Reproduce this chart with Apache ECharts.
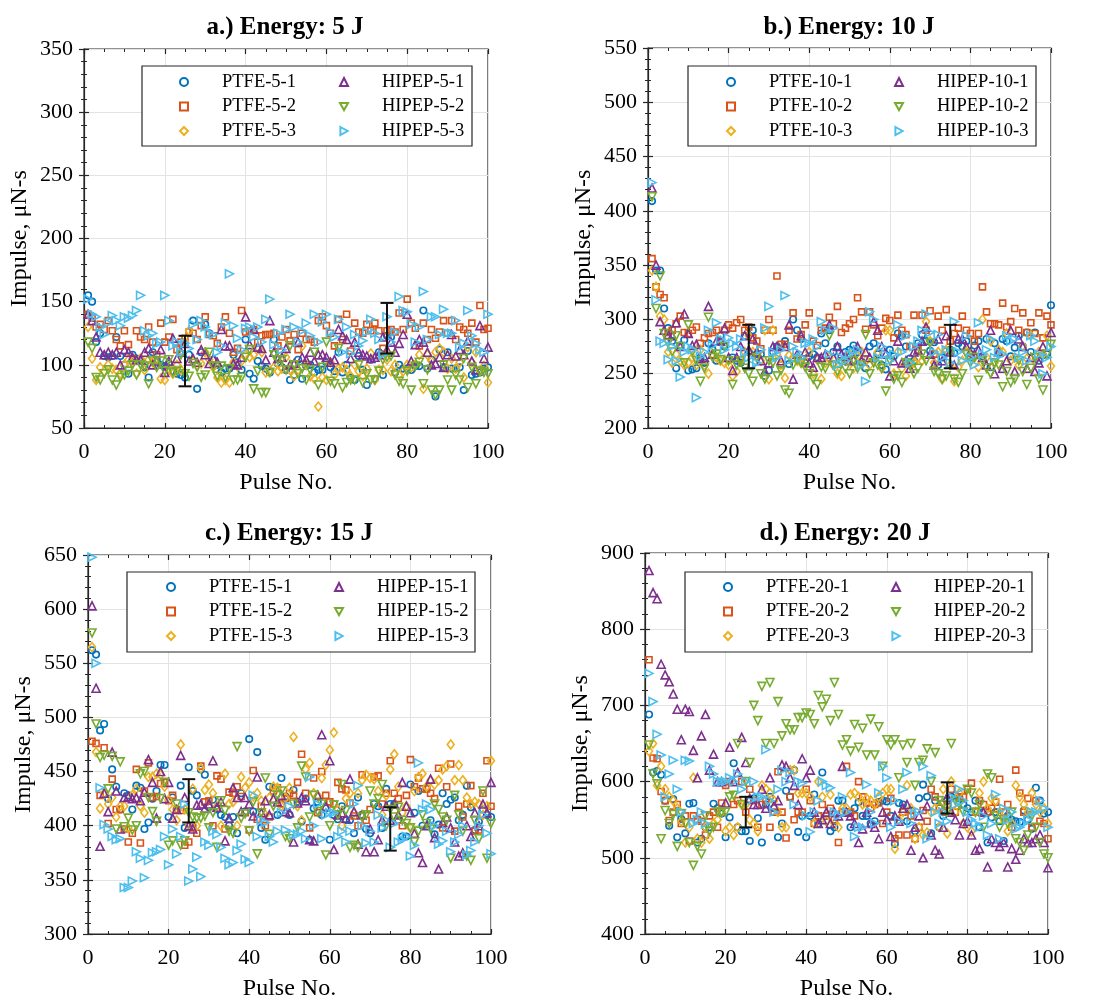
<!DOCTYPE html>
<html>
<head>
<meta charset="utf-8">
<script src="https://cdn.jsdelivr.net/npm/echarts@6/dist/echarts.min.js"></script>
<style>html,body{margin:0;padding:0;background:#fff}#chart{width:1094px;height:1002px}</style>
</head>
<body>
<div id="chart"></div>
<script>
// ---------- data (pulse 1..100) ----------
const pulses = Array.from({length: 100}, (_, i) => i + 1);
const xTicks = [0, 20, 40, 60, 80, 100];

// a.) 5 J
const ptfe5_1 = [155,150,118,125,107,106,107,122,107,100, 93,108,105,104,98,90,110,104,100,99, 101,95,93,92,90,108,135,81,110,132, 125,104,100,94,97,97,108,102,96,120, 93,89,103,99,97,94,120,101,98,96, 88,92,104,89,99,100,94,96,96,102, 98,95,110,94,100,90,88,107,96,84, 104,89,110,92,123,122,94,100,97,97, 96,99,99,143,97,104,75,112,98,110, 97,97,98,80,111,92,93,94,97,98];
const ptfe5_2 = [140,137,130,132,128,135,127,120,115,127, 116,105,127,122,120,130,118,108,133,118, 122,136,112,118,121,126,125,120,131,138, 124,123,117,130,138,125,110,113,143,126, 127,128,118,123,124,124,125,115,122,128, 119,124,112,125,120,120,118,135,138,131, 125,115,136,120,140,111,133,126,125,132, 127,133,127,113,127,128,126,141,128,152, 133,129,115,133,120,128,121,126,135,125, 135,120,130,128,125,133,118,147,128,129];
const ptfe5_3 = [130,105,88,98,95,100,97,96,93,100, 104,103,93,105,96,104,102,99,89,88, 97,93,100,96,118,127,103,100,101,110, 104,98,90,86,88,86,102,99,103,108, 106,108,114,110,94,95,98,95,97,106, 96,91,96,115,100,91,89,67,90,88, 102,92,97,98,96,91,100,95,91,97, 109,88,96,96,104,95,100,92,95,100, 98,100,108,81,108,103,110,113,110,97, 105,97,102,90,114,102,110,95,99,86];
const hipep5_1 = [140,135,122,110,108,110,108,110,100,112, 110,106,104,104,110,113,100,103,112,94, 103,121,105,110,117,103,105,102,112,108, 101,105,102,128,115,115,101,100,106,138, 116,128,114,113,104,135,110,105,106,113, 100,101,118,106,104,110,103,108,108,106, 102,104,128,123,120,105,118,110,108,107, 105,106,108,122,112,118,110,117,124,140, 103,116,120,118,110,100,101,106,98,108, 124,107,112,108,119,103,96,131,105,114];
const hipep5_2 = [118,113,90,88,93,96,88,84,90,92, 95,100,92,100,99,85,103,98,103,95, 104,94,95,108,93,91,101,98,90,92, 110,99,91,99,90,97,88,88,90,106, 112,81,95,78,78,94,108,104,104,96, 115,100,93,97,88,96,110,84,98,118, 87,85,113,82,86,88,88,100,86,93, 88,88,95,104,106,107,92,87,85,95, 80,99,102,85,96,80,76,80,100,88, 80,92,88,105,82,98,85,95,94,93];
const hipep5_3 = [152,140,138,130,124,133,139,135,131,138, 137,139,143,155,127,123,125,117,118,155, 135,115,118,110,117,113,132,120,135,130, 125,124,110,115,133,172,131,121,112,129, 130,122,130,118,136,152,116,125,112,128, 140,130,118,127,133,123,140,118,134,140, 126,122,136,110,130,109,124,115,119,126, 136,125,120,108,138,118,126,154,143,142, 132,118,130,158,120,138,138,124,144,125, 125,135,114,117,143,123,117,112,110,140];

// b.) 10 J
const ptfe10_1 = [409,345,345,310,292,280,255,276,281,253, 254,255,265,260,278,272,262,285,275,263, 265,262,260,285,270,290,268,268,248,253, 270,275,258,280,259,300,290,282,260,266, 268,265,287,278,290,270,275,262,270,272, 276,270,261,255,275,278,268,258,254,272, 266,287,285,275,264,262,278,286,280,271, 279,258,265,271,272,269,278,275,280,265, 276,280,266,282,256,278,270,282,280,266, 274,285,275,288,270,288,262,267,268,313];
const ptfe10_2 = [356,330,323,320,288,290,296,303,288,287, 290,293,278,283,287,288,290,280,290,295, 292,297,300,290,293,283,280,273,290,300, 290,340,277,277,290,306,282,286,295,306, 280,276,290,292,302,296,312,288,292,296, 300,320,307,291,307,295,285,292,301,299, 283,304,290,286,275,304,272,304,290,308, 268,303,290,309,280,287,292,303,290,287, 280,287,330,307,296,296,295,315,293,298, 310,290,306,288,297,287,306,283,303,295];
const ptfe10_3 = [345,330,303,300,270,260,268,262,258,260, 265,258,272,258,250,268,265,262,260,258, 248,252,262,270,285,270,265,262,290,245, 290,268,258,246,267,265,262,260,262,270, 250,263,245,260,265,258,250,248,262,268, 255,266,270,262,258,262,270,255,290,290, 250,270,255,248,258,260,265,262,298,280, 260,270,245,272,258,243,256,262,270,268, 265,256,300,265,280,260,272,270,287,262, 265,258,275,264,285,262,270,268,285,257];
const hipep10_1 = [421,350,298,290,286,285,297,275,305,287, 276,277,264,265,312,268,280,280,292,265, 253,265,275,285,272,282,270,262,252,260, 275,275,262,275,295,245,268,285,270,260, 256,265,265,268,295,265,275,268,266,262, 263,275,262,270,265,298,290,275,268,248, 262,280,260,262,255,270,272,280,293,268, 258,282,262,285,270,258,282,282,275,270, 268,272,265,258,290,250,270,255,262,290, 252,282,275,255,265,252,260,275,248,288];
const hipep10_2 = [413,310,340,287,278,270,285,275,260,295, 270,262,243,255,302,265,268,263,275,262, 240,258,262,255,250,243,265,250,245,262, 260,248,253,235,232,258,263,260,256,250, 245,240,256,255,285,258,252,260,255,250, 262,255,258,286,250,260,258,255,234,262, 245,248,242,260,258,250,255,268,262,278, 252,250,245,248,270,245,242,250,268,260, 265,244,262,255,250,260,258,238,252,242, 245,262,252,240,255,265,245,235,268,277];
const hipep10_3 = [426,318,280,278,263,275,262,247,270,275, 272,228,266,270,290,276,297,282,272,283, 278,275,282,270,265,258,260,272,292,312, 270,265,272,322,262,275,270,265,278,278, 282,275,298,290,268,292,258,265,262,268, 270,272,258,243,307,300,265,275,268,262, 268,295,270,285,260,275,280,290,305,288, 270,286,265,272,260,298,270,262,285,265, 258,297,268,272,282,265,270,268,285,280, 282,265,270,262,285,280,268,250,265,275];

// c.) 15 J
const ptfe15_1 = [562,558,488,494,425,452,436,415,430,428, 415,437,435,397,403,425,432,456,456,408, 426,415,437,398,454,432,428,452,447,417, 424,415,410,408,400,408,393,430,413,480, 413,468,398,387,436,435,410,444,427,410, 433,422,404,425,387,416,422,410,416,387, 410,406,418,405,405,393,426,410,397,393, 420,418,398,434,420,420,405,390,390,438, 412,432,400,435,405,392,401,430,420,424, 426,405,410,437,417,396,404,415,410,408];
const ptfe15_2 = [478,476,428,472,402,443,415,415,397,385, 393,452,384,432,458,426,427,439,440,423, 428,415,414,382,385,398,393,455,422,423, 400,446,443,397,431,430,436,427,412,396, 451,406,418,400,408,432,435,420,425,430, 428,440,466,430,398,444,412,450,428,422, 420,440,434,433,421,409,400,447,405,415, 445,446,420,430,460,430,425,400,428,461, 436,444,434,434,430,425,453,398,436,457, 395,418,408,420,437,395,396,430,460,418];
const ptfe15_3 = [565,468,416,430,420,426,408,418,418,398, 428,434,418,412,445,445,448,447,436,424, 415,405,475,415,400,434,400,453,433,438, 430,418,400,448,420,422,400,445,435,440, 427,430,423,410,426,436,435,418,426,435, 482,418,405,452,458,430,428,444,456,470, 486,415,400,425,430,412,430,442,447,444, 443,432,410,428,452,466,436,412,418,398, 432,445,448,436,442,438,442,452,455,475, 442,456,442,426,420,422,420,410,418,460];
const hipep15_1 = [603,527,381,430,413,468,432,397,426,427, 425,426,423,431,461,440,407,450,425,440, 407,415,465,426,400,397,419,420,416,420, 460,417,422,386,407,435,426,413,426,420, 409,445,412,423,410,425,422,428,413,412, 385,421,426,423,387,386,428,484,418,460, 378,410,412,407,443,413,383,410,376,397, 376,387,405,418,405,420,410,440,418,412, 393,375,366,400,443,389,360,403,408,398, 385,372,375,400,390,412,400,420,412,440];
const hipep15_2 = [578,494,463,465,434,464,397,459,399,407, 396,400,448,450,426,413,404,425,440,382, 386,420,382,386,412,408,407,407,409,398, 412,380,423,414,395,393,473,407,411,395, 422,374,412,444,392,418,428,432,390,388, 420,398,455,445,408,428,413,420,373,400, 419,410,438,414,380,382,380,408,410,432, 420,425,438,400,415,408,417,405,402,398, 385,395,410,402,397,420,415,408,405,370, 428,410,395,372,368,405,388,432,370,402];
const hipep15_3 = [648,550,435,401,397,390,387,388,343,343, 349,376,370,352,368,375,376,378,390,364, 397,374,390,420,349,360,371,353,385,382, 395,392,380,370,364,366,377,383,369,366, 428,390,405,403,390,385,395,412,396,418, 392,392,395,388,445,400,420,388,410,412, 412,390,395,385,395,420,437,400,384,395, 385,410,398,405,380,402,385,387,390,372, 382,458,415,420,415,400,383,386,395,376, 385,392,400,373,377,385,400,410,393,374];

// d.) 20 J
const ptfe20_1 = [688,612,614,609,575,542,577,527,551,532, 571,572,520,525,540,540,571,565,558,527, 553,624,540,535,535,522,578,552,520,570, 580,565,527,545,588,580,615,534,555,527, 555,583,545,612,555,535,540,575,575,560, 540,565,573,555,555,545,548,573,575,574, 555,518,572,570,548,562,535,578,596,580, 532,575,540,555,575,580,582,578,570,565, 560,575,540,560,520,553,560,548,522,555, 550,548,547,562,550,538,592,575,558,560];
const ptfe20_2 = [760,631,630,587,575,549,560,570,545,555, 522,555,550,548,530,555,560,540,572,595, 600,570,575,600,560,590,575,540,570,575, 540,560,613,560,526,580,550,560,560,590, 575,545,555,570,555,565,550,520,560,620, 560,555,600,580,572,565,570,572,545,560, 578,525,530,560,530,555,525,540,562,548, 590,580,565,560,570,590,560,580,580,590, 598,560,575,570,560,565,573,603,560,570, 540,615,585,560,578,540,575,548,545,525];
const ptfe20_3 = [640,650,595,620,590,580,575,565,548,520, 540,605,525,520,540,525,545,550,560,535, 540,530,540,570,570,550,545,535,595,590, 585,575,560,540,540,615,615,585,585,585, 580,545,600,580,548,583,545,540,565,565, 583,585,580,570,578,575,570,580,585,590, 590,512,550,560,595,565,525,540,530,533, 560,565,540,590,532,600,560,585,545,540, 535,560,585,600,565,578,575,560,550,535, 545,595,580,570,560,585,570,560,565,545];
const hipep20_1 = [877,848,840,754,740,731,715,695,655,695, 692,641,605,660,688,615,636,600,600,572, 645,600,612,658,625,578,570,570,590,565, 605,568,575,622,620,605,595,570,630,605, 615,560,545,550,560,545,560,555,620,560, 555,545,520,538,560,545,540,525,560,550, 528,555,548,565,570,510,540,555,500,568, 530,510,505,540,580,560,550,530,545,548, 530,510,512,560,488,525,520,515,520,488, 512,498,510,525,520,520,525,530,520,487];
const hipep20_2 = [648,610,597,525,562,545,557,515,558,545, 520,490,515,505,555,535,540,560,560,560, 580,582,650,570,600,625,700,680,725,650, 730,650,705,660,676,668,668,684,684,690, 688,676,713,698,708,680,730,688,648,655, 640,675,645,670,635,682,635,672,620,655, 648,655,605,648,625,650,595,625,628,643, 600,638,575,570,560,650,575,570,560,590, 585,560,570,540,610,605,555,540,550,545, 560,525,520,510,530,555,540,520,505,500];
const hipep20_3 = [742,705,662,635,580,610,628,590,560,628, 627,545,550,560,545,620,610,600,600,600, 605,600,610,590,600,575,600,580,580,642, 575,560,590,615,600,612,570,600,598,555, 534,560,575,600,595,592,560,555,580,560, 612,528,540,540,596,560,545,585,620,605, 540,575,548,590,612,545,558,560,620,525, 608,560,545,560,548,580,570,590,575,560, 550,545,540,555,530,545,583,525,565,550, 560,538,540,545,550,560,560,575,565,540];

// error bars: pulse, low, high
const errPulse = [25, 75];
const err5 = [[83, 123], [109, 149]];
const err10 = [[255, 295], [255, 295]];
const err15 = [[403, 443], [377, 417]];
const err20 = [[540, 580], [558, 599]];

const names5 = ['PTFE-5-1','PTFE-5-2','PTFE-5-3','HIPEP-5-1','HIPEP-5-2','HIPEP-5-3'];
const names10 = ['PTFE-10-1','PTFE-10-2','PTFE-10-3','HIPEP-10-1','HIPEP-10-2','HIPEP-10-3'];
const names15 = ['PTFE-15-1','PTFE-15-2','PTFE-15-3','HIPEP-15-1','HIPEP-15-2','HIPEP-15-3'];
const names20 = ['PTFE-20-1','PTFE-20-2','PTFE-20-3','HIPEP-20-1','HIPEP-20-2','HIPEP-20-3'];
const titles = ['a.) Energy: 5 J', 'b.) Energy: 10 J', 'c.) Energy: 15 J', 'd.) Energy: 20 J'];
const yRanges = [[50, 350, 50], [200, 550, 50], [300, 650, 50], [400, 900, 100]];

// ---------- styling / layout ----------
const FONT = '"Liberation Serif", "Times New Roman", serif';
const COLORS = ['#0072BD','#D95319','#EDB120','#7E2F8E','#77AC30','#4DBEEE'];
const SYMBOLS = ['circle','rect','diamond','triangle','triangle','triangle'];
const ROT = [0, 0, 0, 0, 180, -90];
const SIZES = [6.5, 6, [7, 9], 8, 8, 8];
const LEGEND_ICONS = ['circle', 'rect', 'diamond', 'triangle',
  'path://M0,0 L10,0 L5,9 Z', 'path://M0,0 L9,5 L0,10 Z'];

const panels = [
  {names: names5, data: [ptfe5_1, ptfe5_2, ptfe5_3, hipep5_1, hipep5_2, hipep5_3], err: err5,
   grid: {left: 84, top: 49, width: 404, height: 379}, tx: 285, ty: 15,
   box: {x: 142, y: 66, width: 330, height: 80}, leg: {left: 179, top: 69.75, tw: 117}},
  {names: names10, data: [ptfe10_1, ptfe10_2, ptfe10_3, hipep10_1, hipep10_2, hipep10_3], err: err10,
   grid: {left: 648, top: 48, width: 403, height: 380}, tx: 849, ty: 15,
   box: {x: 688, y: 66, width: 348, height: 80}, leg: {left: 726, top: 69.75, tw: 125}},
  {names: names15, data: [ptfe15_1, ptfe15_2, ptfe15_3, hipep15_1, hipep15_2, hipep15_3], err: err15,
   grid: {left: 88, top: 555, width: 403, height: 379}, tx: 289, ty: 521,
   box: {x: 127, y: 572, width: 348, height: 80}, leg: {left: 166, top: 574.75, tw: 125}},
  {names: names20, data: [ptfe20_1, ptfe20_2, ptfe20_3, hipep20_1, hipep20_2, hipep20_3], err: err20,
   grid: {left: 645, top: 553, width: 403, height: 381}, tx: 845, ty: 521,
   box: {x: 685, y: 572, width: 347, height: 80}, leg: {left: 723, top: 574.75, tw: 125}}
];

const option = {
  backgroundColor: '#fff',
  animation: false,
  title: [], grid: [], xAxis: [], yAxis: [], legend: [], series: [], graphic: []
};

const axisLineStyle = {color: '#262626', width: 1.2};
const gridLineStyle = {color: '#e3e3e3', width: 1};

panels.forEach((p, k) => {
  option.title.push({
    text: titles[k], left: p.tx, top: p.ty, textAlign: 'center', padding: 0,
    textStyle: {fontFamily: FONT, fontWeight: 'bold', fontSize: 25, color: '#000'}
  });
  option.grid.push(Object.assign({show: true, borderColor: '#262626', borderWidth: 1.2, backgroundColor: 'transparent'}, p.grid));
  const [ymin, ymax, yint] = yRanges[k];
  option.xAxis.push({
    type: 'value', gridIndex: k, min: 0, max: 100, interval: 20,
    name: 'Pulse No.', nameLocation: 'middle', nameGap: 43,
    nameTextStyle: {fontFamily: FONT, fontSize: 24, color: '#000'},
    axisLine: {show: true, lineStyle: axisLineStyle},
    axisTick: {show: true, inside: true, length: 5, lineStyle: axisLineStyle},
    minorTick: {show: true, splitNumber: 4, length: 3, lineStyle: {color: '#262626'}},
    axisLabel: {fontFamily: FONT, fontSize: 22, color: '#000', margin: 13},
    splitLine: {show: true, lineStyle: gridLineStyle}
  });
  option.yAxis.push({
    type: 'value', gridIndex: k, min: ymin, max: ymax, interval: yint,
    name: 'Impulse, μN-s', nameLocation: 'middle', nameGap: 52,
    nameTextStyle: {fontFamily: FONT, fontSize: 24, color: '#000'},
    axisLine: {show: true, lineStyle: axisLineStyle},
    axisTick: {show: true, inside: true, length: 5, lineStyle: axisLineStyle},
    minorTick: {show: true, splitNumber: 5, length: 3, lineStyle: {color: '#262626'}},
    axisLabel: {fontFamily: FONT, fontSize: 22, color: '#000', margin: 11},
    splitLine: {show: true, lineStyle: gridLineStyle}
  });
  option.graphic.push({
    type: 'rect', z: 50, silent: true,
    shape: p.box,
    style: {fill: '#fff', stroke: '#262626', lineWidth: 1.2}
  });
  option.legend.push({
    data: p.names.map((n, s) => ({name: n, icon: LEGEND_ICONS[s], symbolRotate: 0})),
    orient: 'vertical', left: p.leg.left, top: p.leg.top, height: 74,
    padding: 0, itemWidth: 8, itemHeight: 8, itemGap: 0, z: 60,
    borderWidth: 0, backgroundColor: 'transparent',
    selectedMode: false, symbolRotate: 0,
    textStyle: {fontFamily: FONT, fontSize: 18.5, color: '#000', width: p.leg.tw,
                lineHeight: 24.5, padding: [0, 0, 0, 29]}
  });
  p.data.forEach((vals, s) => {
    option.series.push({
      type: 'scatter', name: p.names[s], xAxisIndex: k, yAxisIndex: k,
      symbol: SYMBOLS[s], symbolSize: SIZES[s], symbolRotate: ROT[s],
      itemStyle: {color: 'rgba(255,255,255,0)', borderColor: COLORS[s], borderWidth: 1.6, opacity: 1},
      data: vals.map((v, i) => [pulses[i], v]),
      z: 2 + s
    });
  });
  option.series.push({
    type: 'custom', xAxisIndex: k, yAxisIndex: k, z: 20, silent: true,
    data: errPulse.map((x, i) => [x, p.err[i][0], p.err[i][1]]),
    encode: {x: 0, y: [1, 2]},
    renderItem: function (params, api) {
      const x = api.value(0), lo = api.coord([x, api.value(1)]), hi = api.coord([x, api.value(2)]);
      const w = 6.5;
      const st = {stroke: '#111', lineWidth: 2};
      return {type: 'group', children: [
        {type: 'line', shape: {x1: lo[0], y1: lo[1], x2: hi[0], y2: hi[1]}, style: st},
        {type: 'line', shape: {x1: lo[0] - w, y1: lo[1], x2: lo[0] + w, y2: lo[1]}, style: st},
        {type: 'line', shape: {x1: hi[0] - w, y1: hi[1], x2: hi[0] + w, y2: hi[1]}, style: st}
      ]};
    }
  });
});

panels.forEach((p, k) => {
  const [ymin, ymax, yint] = yRanges[k];
  option.xAxis.push({
    type: 'value', gridIndex: k, position: 'top', min: 0, max: 100, interval: 20,
    axisLine: {show: false}, axisLabel: {show: false}, splitLine: {show: false},
    axisTick: {show: true, inside: true, length: 5, lineStyle: axisLineStyle},
    minorTick: {show: true, splitNumber: 4, length: 3, lineStyle: {color: '#262626'}}
  });
  option.yAxis.push({
    type: 'value', gridIndex: k, position: 'right', min: ymin, max: ymax, interval: yint,
    axisLine: {show: false}, axisLabel: {show: false}, splitLine: {show: false},
    axisTick: {show: true, inside: true, length: 5, lineStyle: axisLineStyle},
    minorTick: {show: true, splitNumber: 5, length: 3, lineStyle: {color: '#262626'}}
  });
});

const chart = echarts.init(document.getElementById('chart'), null, {renderer: 'canvas'});
chart.setOption(option);
</script>
</body>
</html>
